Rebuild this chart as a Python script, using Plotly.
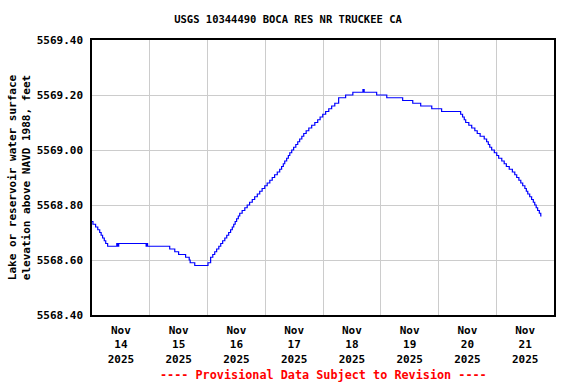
import pandas as pd
import plotly.graph_objects as go

# Change points: hours since 2025-11-14 00:00 and gage height (ft), step-wise data
hours = [0.0, 0.4, 1.5, 2.4, 3.2, 3.8, 4.4, 5.1, 5.7, 6.5,
         10.3, 10.7, 11.1, 22.5, 22.7, 23.1, 32.3, 34.4, 36.0, 38.9,
         40.4, 40.8, 42.7, 48.2, 49.3, 50.2, 51.0, 51.8, 52.7, 53.5,
         54.3, 55.2, 56.0, 56.8, 57.6, 58.3, 58.9, 59.5, 60.1, 60.8,
         61.4, 62.4, 63.5, 64.5, 65.5, 66.6, 67.6, 68.7, 69.7, 70.7,
         71.8, 72.8, 73.9, 74.9, 75.9, 77.0, 78.0, 78.8, 79.5, 80.1,
         80.9, 81.6, 82.2, 83.0, 83.8, 84.7, 85.5, 86.3, 87.2, 88.0,
         89.0, 90.1, 91.3, 92.6, 93.8, 94.8, 95.9, 97.1, 98.4, 99.6,
         100.9, 102.5, 105.4, 108.4, 112.6, 113.1, 118.3, 122.5, 129.1, 133.3,
         136.6, 141.2, 145.3, 153.2, 154.0, 154.7, 155.3, 156.6, 157.8, 159.1,
         160.1, 161.3, 163.0, 164.0, 164.7, 165.3, 166.1, 167.2, 168.2, 169.0,
         170.3, 171.3, 172.2, 173.4, 174.7, 175.7, 176.5, 177.4, 178.2, 179.0,
         179.9, 180.5, 181.1, 181.9, 182.7, 183.4, 184.0, 184.6, 185.2, 185.9,
         186.5, 186.8]
levels = [5568.74, 5568.73, 5568.72, 5568.71, 5568.70, 5568.69, 5568.68, 5568.67, 5568.66, 5568.65,
          5568.66, 5568.65, 5568.66, 5568.65, 5568.66, 5568.65, 5568.64, 5568.63, 5568.62, 5568.61,
          5568.60, 5568.59, 5568.58, 5568.59, 5568.61, 5568.62, 5568.63, 5568.64, 5568.65, 5568.66,
          5568.67, 5568.68, 5568.69, 5568.70, 5568.71, 5568.72, 5568.73, 5568.74, 5568.75, 5568.76,
          5568.77, 5568.78, 5568.79, 5568.80, 5568.81, 5568.82, 5568.83, 5568.84, 5568.85, 5568.86,
          5568.87, 5568.88, 5568.89, 5568.90, 5568.91, 5568.92, 5568.93, 5568.94, 5568.95, 5568.96,
          5568.97, 5568.98, 5568.99, 5569.00, 5569.01, 5569.02, 5569.03, 5569.04, 5569.05, 5569.06,
          5569.07, 5569.08, 5569.09, 5569.10, 5569.11, 5569.12, 5569.13, 5569.14, 5569.15, 5569.16,
          5569.17, 5569.19, 5569.20, 5569.21, 5569.22, 5569.21, 5569.20, 5569.19, 5569.18, 5569.17,
          5569.16, 5569.15, 5569.14, 5569.13, 5569.12, 5569.11, 5569.10, 5569.09, 5569.08, 5569.07,
          5569.06, 5569.05, 5569.04, 5569.03, 5569.02, 5569.01, 5569.00, 5568.99, 5568.98, 5568.97,
          5568.96, 5568.95, 5568.94, 5568.93, 5568.92, 5568.91, 5568.90, 5568.89, 5568.88, 5568.87,
          5568.86, 5568.85, 5568.84, 5568.83, 5568.82, 5568.81, 5568.80, 5568.79, 5568.78, 5568.77,
          5568.76, 5568.76]

day_labels = ["Nov<br>14<br>2025", "Nov<br>15<br>2025", "Nov<br>16<br>2025", "Nov<br>17<br>2025",
              "Nov<br>18<br>2025", "Nov<br>19<br>2025", "Nov<br>20<br>2025", "Nov<br>21<br>2025"]
y_ticks = [5568.40, 5568.60, 5568.80, 5569.00, 5569.20, 5569.40]

start = pd.Timestamp("2025-11-14 00:00")
times = [start + pd.Timedelta(hours=h) for h in hours]
midnights = [start + pd.Timedelta(days=d) for d in range(9)]
noons = [start + pd.Timedelta(days=d, hours=12) for d in range(8)]

FONT = "DejaVu Sans Mono"

fig = go.Figure()
fig.add_trace(go.Scatter(x=times, y=levels, mode="lines", line=dict(color="#0000ff", width=1.2, shape="hv"),
                         hoverinfo="skip", showlegend=False))

fig.update_layout(
    width=576, height=384,
    margin=dict(l=92, r=22, t=40, b=69, autoexpand=False),
    paper_bgcolor="white", plot_bgcolor="white",
    font=dict(family=FONT, size=11, color="black", weight="bold"),
    title=dict(text="USGS 10344490 BOCA RES NR TRUCKEE CA", x=0.5, xanchor="center",
               y=1 - 19 / 384, yanchor="middle", yref="container",
               font=dict(family=FONT, size=10.5, color="black", weight="bold")),
    xaxis=dict(range=[midnights[0], midnights[-1]], tickmode="array", tickvals=noons, ticktext=day_labels,
               showgrid=False, ticks="", showline=True, linecolor="black", linewidth=1.5, mirror=True,
               zeroline=False, ticklabelstandoff=4, automargin=False,
               minor=dict(tickmode="array", tickvals=midnights, showgrid=True, gridcolor="#cccccc", gridwidth=1, ticks="")),
    yaxis=dict(range=[5568.40, 5569.40], tickmode="array", tickvals=y_ticks,
               ticktext=[f"{v:.2f}" for v in y_ticks], automargin=False,
               showgrid=True, gridcolor="#cccccc", gridwidth=1, ticks="", showline=True, linecolor="black",
               linewidth=1.5, mirror=True, zeroline=False, ticklabelstandoff=5,
               title=dict(text="Lake or reservoir water surface<br>elevation above NAVD 1988, feet",
                          standoff=4, font=dict(family=FONT, size=11, weight="bold"))),
)
fig.add_annotation(text="---- Provisional Data Subject to Revision ----", xref="paper", yref="paper",
                   x=0.5, y=-(375 - 315) / 275.0, xanchor="center", yanchor="middle", showarrow=False,
                   font=dict(family=FONT, size=11.8, color="red", weight="bold"))

fig.write_html("out.html", config={"displayModeBar": False},
               post_script="document.body.style.margin='0';document.body.style.padding='0';")
